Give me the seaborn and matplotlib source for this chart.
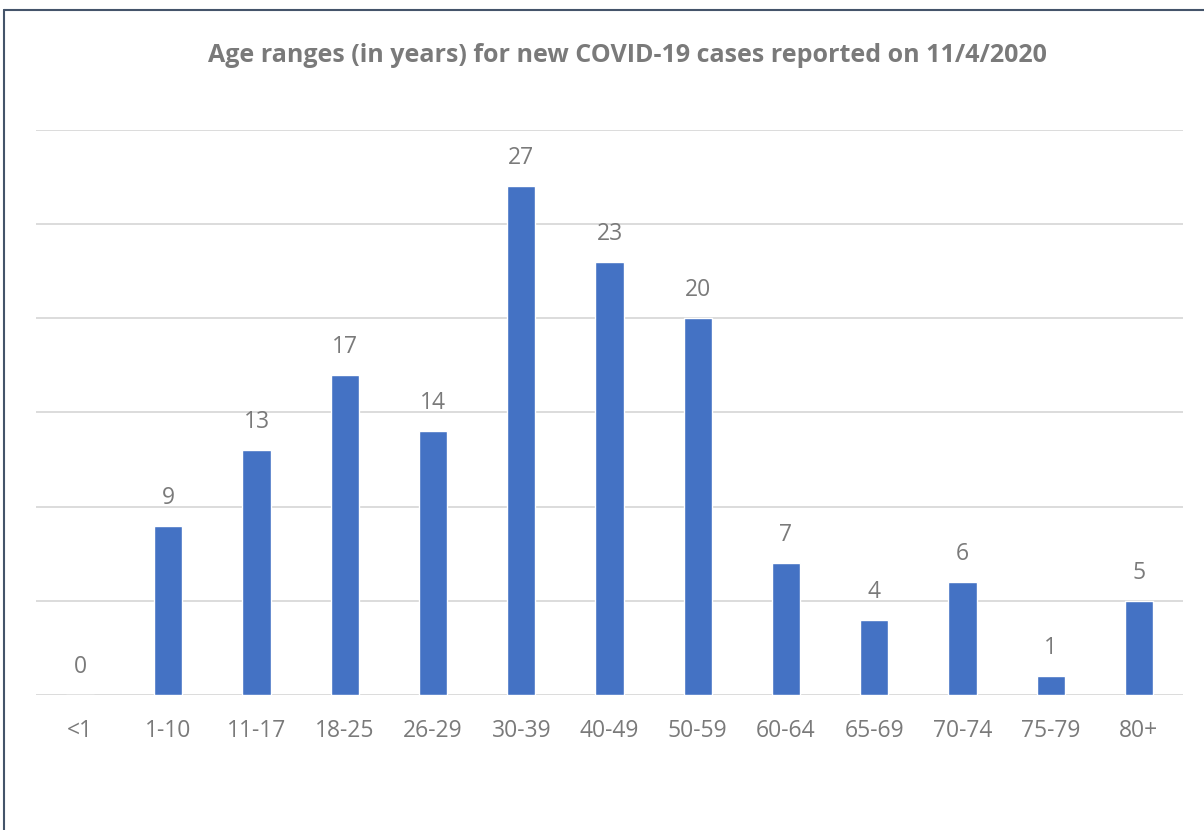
import matplotlib
matplotlib.use("Agg")
import matplotlib.pyplot as plt
import seaborn as sns
import pandas as pd
from matplotlib.lines import Line2D

age_ranges = ["<1", "1-10", "11-17", "18-25", "26-29", "30-39", "40-49",
              "50-59", "60-64", "65-69", "70-74", "75-79", "80+"]
cases = [0, 9, 13, 17, 14, 27, 23, 20, 7, 4, 6, 1, 5]
title = "Age ranges (in years) for new COVID-19 cases reported on 11/4/2020"

sns.set_theme(style="white")
plt.rcParams["font.family"] = ["Open Sans", "DejaVu Sans"]

text_color = "#7a7a7a"
bar_color = "#4472C4"
grid_color = "#d9d9d9"

df = pd.DataFrame({"Age": age_ranges, "Cases": cases})

fig = plt.figure(figsize=(12.04, 8.3), dpi=100)
ax = fig.add_axes([36 / 1204, 135 / 830, (1183 - 36) / 1204, (695 - 130) / 830])

sns.barplot(data=df, x="Age", y="Cases", order=age_ranges, color=bar_color,
            saturation=1, width=0.32, ax=ax)

ax.set_ylim(0, 30)
ax.set_xlim(-0.5, len(age_ranges) - 0.5)
ax.set_yticks(range(0, 31, 5))
ax.yaxis.grid(True, color=grid_color, linewidth=1.3)
ax.set_axisbelow(True)
ax.tick_params(axis="y", left=False, labelleft=False)
ax.tick_params(axis="x", bottom=False, labelsize=16.5, colors=text_color, pad=11)
ax.set_xlabel("")
ax.set_ylabel("")
for s in ax.spines.values():
    s.set_visible(False)

for i, v in enumerate(cases):
    ax.annotate(str(v), (i, v), xytext=(0, 28), textcoords="offset pixels",
                ha="center", va="center", fontsize=16.5, color=text_color)

fig.text(627 / 1204, 1 - 55 / 830, title, ha="center", va="center",
         fontsize=18, fontweight="bold", color=text_color)

# chart frame (top and left edges)
frame = "#44546A"
fig.add_artist(Line2D([4 / 1204, 1], [1 - 10 / 830, 1 - 10 / 830],
                      transform=fig.transFigure, color=frame, linewidth=1.5))
fig.add_artist(Line2D([4 / 1204, 4 / 1204], [0, 1 - 10 / 830],
                      transform=fig.transFigure, color=frame, linewidth=1.5))

fig.savefig("out.png", dpi=100, facecolor="white")
